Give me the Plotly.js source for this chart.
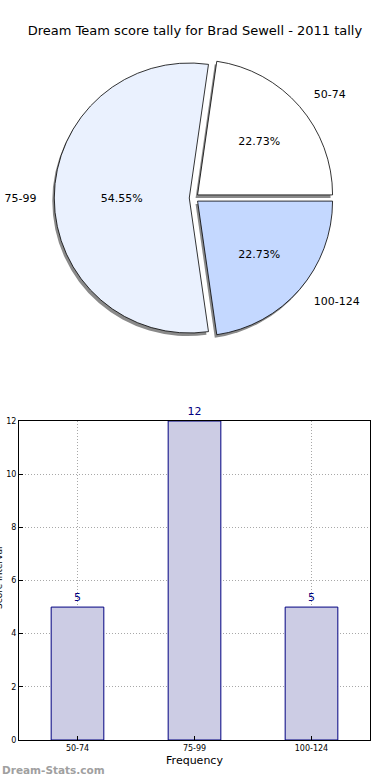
<!DOCTYPE html>
<html><head><meta charset="utf-8">
<script src="https://cdn.plot.ly/plotly-3.0.1.min.js"></script>
<style>html,body{margin:0;padding:0;background:#fff}#chart{width:390px;height:780px}</style>
</head><body><div id="chart"></div>
<script>
const categories = ['50-74', '75-99', '100-124'];
const counts = [5, 12, 5];
const pieColors = ['#ffffff', '#eaf1fe', '#c4d8ff'];
const chartTitle = 'Dream Team score tally for Brad Sewell - 2011 tally';
const xTitle = 'Frequency';
const yTitle = 'Score Interval';
const watermark = 'Dream-Stats.com';

const W = 390, H = 780;
const pull = 0.035;
const cx = 194, cy = 198;
function dom(rad, dx, dy) {
  const half = rad * (1 + pull);
  return {x: [(cx + dx - half) / W, (cx + dx + half) / W],
          y: [1 - (cy + dy + half) / H, 1 - (cy + dy - half) / H]};
}
const total = counts.reduce((a, b) => a + b, 0);
// first slice starts at 3 o'clock and runs counterclockwise
const rot = 90 - 360 * counts[0] / total;
const font = 'DejaVu Sans, sans-serif';
const R = 135;

const labelRing = {
  type: 'pie', labels: categories, values: counts, sort: false,
  direction: 'counterclockwise', rotation: rot, pull: pull,
  domain: dom(149, 0, 0),
  marker: {colors: ['rgba(0,0,0,0)', 'rgba(0,0,0,0)', 'rgba(0,0,0,0)'], line: {width: 0}},
  textinfo: 'label', textposition: 'outside',
  outsidetextfont: {family: font, size: 11, color: '#000'},
  hoverinfo: 'skip', showlegend: false
};
const shadow = {
  type: 'pie', labels: categories, values: counts, sort: false,
  direction: 'counterclockwise', rotation: rot, pull: pull,
  domain: dom(R, -2, 3),
  marker: {colors: ['#8a8a8a', '#8a8a8a', '#8a8a8a'], line: {width: 0}},
  textinfo: 'none',
  hoverinfo: 'skip', showlegend: false
};
const pie = {
  type: 'pie', labels: categories, values: counts, sort: false,
  direction: 'counterclockwise', rotation: rot, pull: pull,
  domain: dom(R, 0, 0),
  marker: {colors: pieColors, line: {color: '#000', width: 0.8}},
  texttemplate: '%{percent:.2%}', textposition: 'inside',
  insidetextorientation: 'horizontal',
  insidetextfont: {family: font, size: 11, color: '#000'},
  showlegend: false
};
const bars = {
  type: 'bar', x: categories, y: counts, xaxis: 'x', yaxis: 'y',
  width: 0.45,
  marker: {color: '#cccce4', line: {color: '#000080', width: 1}},
  text: counts.map(String), textposition: 'outside', cliponaxis: false,
  textfont: {family: font, size: 11, color: '#000080'},
  showlegend: false
};

const layout = {
  width: W, height: H, margin: {l: 0, r: 0, t: 0, b: 0},
  paper_bgcolor: '#fff', plot_bgcolor: '#fff',
  font: {family: font, color: '#000'},
  title: {text: chartTitle, font: {family: font, size: 13, color: '#000'},
          x: 0.5, xanchor: 'center', y: 1 - 30 / H, yanchor: 'middle'},
  xaxis: {domain: [19 / W, 370 / W], anchor: 'y', range: [-0.5, 2.5],
          type: 'category', showline: true, mirror: true, linecolor: '#000', linewidth: 1,
          showgrid: true, gridcolor: '#a8a8a8', griddash: '1px,2px', gridwidth: 1,
          ticks: 'inside', ticklen: 4, tickcolor: '#000',
          tickfont: {family: font, size: 8, color: '#000'},
          title: {text: xTitle, font: {family: font, size: 11, color: '#000'}, standoff: 4},
          zeroline: false, fixedrange: true},
  yaxis: {domain: [1 - 740 / H, 1 - 421 / H], anchor: 'x', range: [0, 12],
          dtick: 2, showline: true, mirror: true, linecolor: '#000', linewidth: 1,
          showgrid: true, gridcolor: '#a8a8a8', griddash: '1px,2px', gridwidth: 1,
          ticks: 'inside', ticklen: 4, tickcolor: '#000',
          tickfont: {family: font, size: 8, color: '#000'},
          zeroline: false, fixedrange: true},
  annotations: [
    {text: yTitle, xref: 'paper', yref: 'paper', x: 0, y: 1 - 578 / H,
     xanchor: 'center', yanchor: 'middle', xshift: -1, textangle: -90,
     showarrow: false, font: {family: font, size: 9, color: '#000'}},
    {text: '<b>' + watermark + '</b>', xref: 'paper', yref: 'paper', x: 0, y: 1 - 770 / H,
     xanchor: 'left', yanchor: 'middle', showarrow: false,
     font: {family: font, size: 10.5, color: '#a0a0a0'}}
  ]
};

Plotly.newPlot('chart', [labelRing, shadow, pie, bars], layout, {displayModeBar: false, staticPlot: true});
</script></body></html>
